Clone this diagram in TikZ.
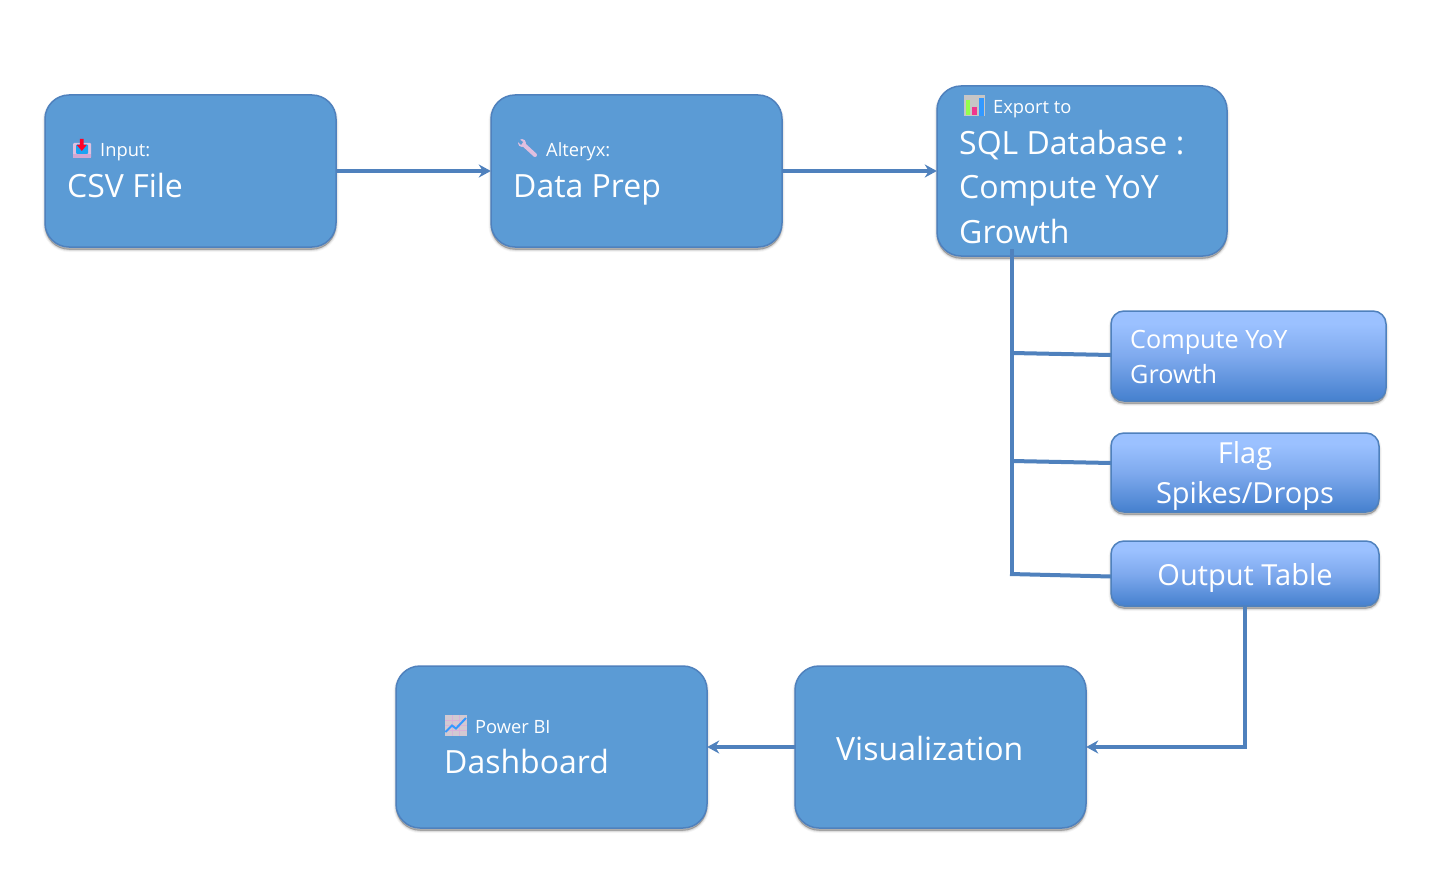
\documentclass[tikz,border=0pt]{standalone}
\usepackage{fontspec}
\setmainfont{Open Sans}
\usetikzlibrary{arrows.meta}
\definecolor{boxfill}{HTML}{5B9BD5}
\definecolor{boxline}{HTML}{4F81BD}
\definecolor{gradtop}{HTML}{9BC1FF}
\definecolor{gradmid}{HTML}{7FAAEE}
\definecolor{gradbot}{HTML}{4580CE}
\pgfdeclareverticalshading{subgrad}{100bp}{color(0bp)=(gradbot); color(25bp)=(gradbot); color(50bp)=(gradmid); color(68bp)=(gradtop); color(100bp)=(gradtop)}
\tikzset{
  softshadow/.style={
     preaction={fill=black,fill opacity=.04,draw=black,draw opacity=.04,line width=5pt,transform canvas={yshift=-2.5pt}},
     preaction={fill=black,fill opacity=.07,draw=black,draw opacity=.07,line width=3pt,transform canvas={yshift=-2.5pt}},
     preaction={fill=black,fill opacity=.14,draw=black,draw opacity=.14,line width=1pt,transform canvas={yshift=-2.5pt}}},
  mainbox/.style={draw=boxline,line width=1.5pt,fill=boxfill,rounded corners=24pt,inner sep=0pt,softshadow},
  subbox/.style={draw=boxline,line width=1.5pt,shading=subgrad,rounded corners=13pt,inner sep=0pt,softshadow},
  flow/.style={draw=boxline,line width=4pt,-{Stealth[length=12pt,width=13pt]}},
  trunk/.style={draw=boxline,line width=4.5pt},
  big/.style={text=white,anchor=base west,inner sep=0pt,font=\fontsize{32}{32}\selectfont},
  small/.style={text=white,anchor=base west,inner sep=0pt,font=\fontsize{18.3}{20}\selectfont},
  sub/.style={text=white,anchor=base west,inner sep=0pt,font=\fontsize{25.2}{26}\selectfont},
  subc/.style={text=white,anchor=base,inner sep=0pt,font=\fontsize{29}{29}\selectfont},
}
\begin{document}
\begin{tikzpicture}[x=1pt,y=-1pt]
\useasboundingbox[fill=white] (0,0) rectangle (1430,888);
% boxes
\path[mainbox] (45,95) rectangle (336,247);
\node (a) at (190.5,171) [minimum width=291pt,minimum height=152pt,inner sep=0pt] {};
\path[mainbox] (491,95) rectangle (782,247);
\node (b) at (636.5,171) [minimum width=291pt,minimum height=152pt,inner sep=0pt] {};
\path[mainbox] (937,86) rectangle (1227,256);
\node (c) at (1082,171) [minimum width=290pt,minimum height=170pt,inner sep=0pt] {};
\path[subbox] (1111,311) rectangle (1386,401);
\node (d) at (1248.5,356) [minimum width=275pt,minimum height=90pt,inner sep=0pt] {};
\path[subbox] (1111,433) rectangle (1379,512);
\node (e) at (1245,472.5) [minimum width=268pt,minimum height=79pt,inner sep=0pt] {};
\path[subbox] (1111,541) rectangle (1379,606);
\node (f) at (1245,573.5) [minimum width=268pt,minimum height=65pt,inner sep=0pt] {};
\path[mainbox] (795,666) rectangle (1086,828);
\node (g) at (940.5,747) [minimum width=291pt,minimum height=162pt,inner sep=0pt] {};
\path[mainbox] (396,666) rectangle (707,828);
\node (h) at (551.5,747) [minimum width=311pt,minimum height=162pt,inner sep=0pt] {};
% connectors
\coordinate (t0) at (1012,249);
\coordinate (t1) at (1012,353);
\coordinate (t2) at (1012,461);
\coordinate (t3) at (1012,574);
\coordinate (elbow) at (1244.5,747);
\draw[trunk] (t0) -- (t3);
\draw[trunk,line width=4pt] (t1) -- (d.west |- 0,355);
\draw[trunk,line width=4pt] (t2) -- (e.west |- 0,463);
\draw[trunk,line width=4pt] (1010,574) -- (f.west |- 0,576.5);
\draw[flow] (a.east) -- (b.west);
\draw[flow] (b.east) -- (c.west);
\draw[flow] (f.south -| elbow) -- (elbow) -- (g.east);
\draw[flow] (g.west) -- (h.east);
% labels
\node[small] (l1) at (100,156.5) {Input:};
\node[big] (t1n) at (67,197) {CSV File};
\node[small] (l2) at (546,156.5) {Alteryx:};
\node[big] (t2n) at (513,197) {Data Prep};
\node[small] (l3) at (993,113.5) {Export to};
\node[big] at (959,154) {SQL Database :};
\node[big] at (959,198.500) {Compute YoY};
\node[big] at (959,243.500) {Growth};
\node[sub] at (1130,348.500) {Compute YoY};
\node[sub] at (1130,383.500) {Growth};
\node[subc] at (1245,463) {Flag};
\node[subc] at (1245,503) {Spikes/Drops};
\node[subc] at (1245,585) {Output Table};
\node[big] at (836,760) {Visualization};
\node[small] (l4) at (475,733.5) {Power BI};
\node[big] at (444,773) {Dashboard};
% icon: inbox
\begin{scope}[shift={(73,139)}]
  \fill[rounded corners=1pt,fill=white!75!violet] (0,4) rectangle (18,19);
  \fill[rounded corners=1pt,fill=blue!35!cyan!70!boxfill] (3,5.5) rectangle (15,15);
  \fill[fill=violet!35!white] (0,15.5) rectangle (18,19);
  \fill[fill=red!85!magenta] (6.8,0) rectangle (10.7,6) (3.8,6) -- (13.7,6) -- (8.8,12) -- cycle;
\end{scope}
% icon: wrench
\begin{scope}[shift={(518,139)}]
  \draw[line width=4pt,line cap=round,color=violet!25!white] (5,5) -- (17,16);
  \fill[violet!25!white] (4,4) circle (4pt);
  \fill[boxfill] (1,0) -- (5,3) -- (3,6) -- (-1,2) -- cycle;
\end{scope}
% icon: bar chart
\begin{scope}[shift={(964,95)}]
  \fill[gray!45!white] (0,0) rectangle (21,21);
  \fill[green!60!yellow!70!white] (1.5,5.5) rectangle (6,20);
  \fill[magenta!80!red!80!white] (8,12) rectangle (13,20);
  \fill[blue!50!cyan!80!white] (15,3) rectangle (20,21);
\end{scope}
% icon: line chart
\begin{scope}[shift={(445,715)}]
  \fill[violet!20!gray!35!white] (0,0) rectangle (21.5,21);
  \draw[white!70!violet,line width=.6pt] (0,5) -- (21.5,5) (0,10) -- (21.5,10) (0,15) -- (21.5,15) (7,0) -- (7,21) (14,0) -- (14,21);
  \draw[blue!50!cyan!80!white,line width=2pt] (0.5,17) -- (7,10.5) -- (11,13.5) -- (21,3);
\end{scope}
\end{tikzpicture}
\end{document}
